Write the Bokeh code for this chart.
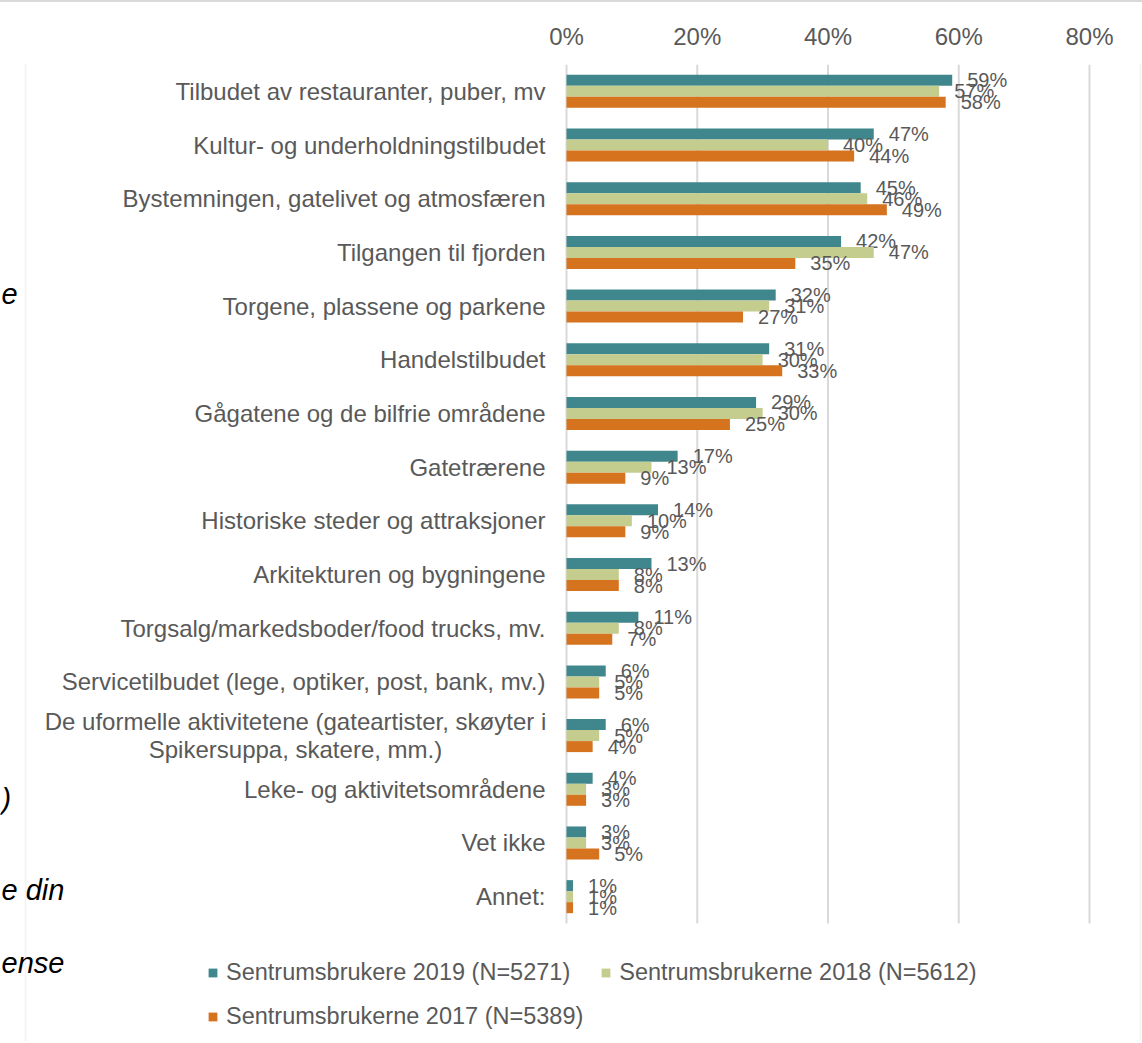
from bokeh.plotting import figure
from bokeh.models import (ColumnDataSource, Range1d, FixedTicker, NumeralTickFormatter,
                          Legend, LegendItem, BoxAnnotation, Label)
from bokeh.transform import dodge
from bokeh.embed import file_html
from bokeh.resources import INLINE
from bokeh.core.properties import value

categories = [
    "Tilbudet av restauranter, puber, mv",
    "Kultur- og underholdningstilbudet",
    "Bystemningen, gatelivet og atmosfæren",
    "Tilgangen til fjorden",
    "Torgene, plassene og parkene",
    "Handelstilbudet",
    "Gågatene og de bilfrie områdene",
    "Gatetrærene",
    "Historiske steder og attraksjoner",
    "Arkitekturen og bygningene",
    "Torgsalg/markedsboder/food trucks, mv.",
    "Servicetilbudet (lege, optiker, post, bank, mv.)",
    "De uformelle aktivitetene (gateartister, skøyter i\nSpikersuppa, skatere, mm.)",
    "Leke- og aktivitetsområdene",
    "Vet ikke",
    "Annet:",
]
s2019 = [59, 47, 45, 42, 32, 31, 29, 17, 14, 13, 11, 6, 6, 4, 3, 1]
s2018 = [57, 40, 46, 47, 31, 30, 30, 13, 10, 8, 8, 5, 5, 3, 3, 1]
s2017 = [58, 44, 49, 35, 27, 33, 25, 9, 9, 8, 7, 5, 4, 3, 5, 1]
series_names = ["Sentrumsbrukere 2019 (N=5271)",
                "Sentrumsbrukerne 2018 (N=5612)",
                "Sentrumsbrukerne 2017 (N=5389)"]
x_ticks = [0, 0.2, 0.4, 0.6, 0.8]
fragments = ["e", ")", "e din", "ense"]

colors = ["#3F878C", "#C5CD8E", "#D6731F"]
offsets = [-0.205, 0.0, 0.205]
FONT = "Liberation Sans"
GREY = "#595959"

# layout in page pixels
W, H = 1142, 1043
TOP = 62                 # frame top (below the 2px top border)
X0_PX, X80_PX = 566, 1089
PX_PER_UNIT = (X80_PX - X0_PX) / 0.8
ROW_PX = 859 / 16
FRAME_TOP_PAGE = TOP + 2

x_start = -X0_PX / PX_PER_UNIT
x_end = (W - X0_PX) / PX_PER_UNIT
y_end = -0.5
y_start = -0.5 + (H - FRAME_TOP_PAGE) / ROW_PX

p = figure(width=W, height=H - 2, output_backend="svg", toolbar_location=None,
           x_range=Range1d(x_start, x_end), y_range=Range1d(y_start, y_end),
           x_axis_location="above", y_axis_location=None,
           min_border_left=0, min_border_right=0,
           min_border_top=TOP, min_border_bottom=0)
p.styles = {"border-top": "2px solid #D9D9D9"}
p.outline_line_color = None
p.background_fill_color = "white"
p.border_fill_color = "white"
p.grid.visible = False

idx = list(range(len(categories)))

# gridlines (0% .. 80%) across the category rows only
p.segment(x0=x_ticks, x1=x_ticks, y0=[-0.5] * len(x_ticks),
          y1=[len(categories) - 0.5] * len(x_ticks),
          line_color="#D9D9D9", line_width=2)

renderers = []
for vals, col, off, name in zip([s2019, s2018, s2017], colors, offsets, series_names):
    src = ColumnDataSource(dict(y=idx, x=[v / 100 for v in vals],
                                lab=[f"{v}%" for v in vals]))
    r = p.hbar(y=dodge("y", off), right="x", left=0, height=0.205, source=src,
               fill_color=col, line_color=None)
    p.text(x="x", y=dodge("y", off), text="lab", source=src, x_offset=15,
           text_align="left", text_baseline="middle",
           text_font=value(FONT), text_font_size="20px", text_color=GREY)
    renderers.append((name, r))

# category labels
multi = ["\n" in c for c in categories]
cat_src = ColumnDataSource(dict(
    y=idx, x=[0] * len(categories), t=categories,
    align=["center" if m else "right" for m in multi],
    xo=[-21 - 250 if m else -21 for m in multi]))
p.text(x="x", y="y", text="t", source=cat_src, x_offset="xo", text_align="align",
       text_baseline="middle", text_font=value(FONT), text_font_size="24px",
       text_color=GREY, text_line_height=1.05)

# top axis
xa = p.xaxis[0]
xa.ticker = FixedTicker(ticks=x_ticks)
xa.formatter = NumeralTickFormatter(format="0%")
xa.axis_line_color = None
xa.major_tick_line_color = None
xa.minor_tick_line_color = None
xa.major_label_standoff = 9
xa.major_label_text_font = FONT
xa.major_label_text_font_size = "24px"
xa.major_label_text_color = GREY

legend = Legend(items=[LegendItem(label=n, renderers=[r]) for n, r in renderers],
                location=(207, 13), orientation="horizontal", ncols=2,
                padding=0, margin=0, spacing=17, label_standoff=8,
                glyph_width=11, glyph_height=11, label_height=27,
                label_text_font=FONT, label_text_font_size="23.5px",
                label_text_color=GREY, border_line_color=None,
                background_fill_alpha=0)
p.add_layout(legend, "center")

# outer chart border (left / right / bottom run past the page)
p.add_layout(BoxAnnotation(left=25, right=1140, top=H + 50, bottom=-20,
                           left_units="screen", right_units="screen",
                           top_units="screen", bottom_units="screen",
                           fill_alpha=0, line_color="#D9D9D9", line_width=2))

# text fragments at the left edge (from the surrounding document)
frag_y = [293, 798, 889, 962]
for txt, fy in zip(fragments, frag_y):
    p.add_layout(Label(x=1, y=H - fy, x_units="screen", y_units="screen", text=txt,
                       text_font=FONT, text_font_style="italic", text_font_size="29px",
                       text_color="black", text_baseline="middle", text_align="left"))

open("out.html", "w").write(file_html(p, INLINE))
